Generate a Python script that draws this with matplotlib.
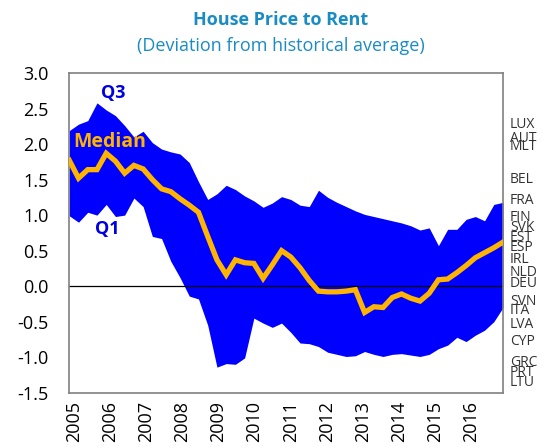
import numpy as np
import matplotlib.pyplot as plt

plt.rcParams["font.family"] = ["Open Sans", "DejaVu Sans"]

# quarterly series, 2005Q1 - 2016Q4
q3 = [2.19, 2.28, 2.33, 2.58, 2.48, 2.40, 2.26, 2.10, 2.18, 2.02, 1.93, 1.89,
      1.86, 1.74, 1.47, 1.22, 1.30, 1.42, 1.36, 1.27, 1.20, 1.11, 1.17, 1.26,
      1.22, 1.14, 1.12, 1.35, 1.25, 1.18, 1.12, 1.06, 1.01, 0.98, 0.95, 0.92,
      0.89, 0.85, 0.79, 0.82, 0.57, 0.80, 0.80, 0.94, 0.98, 0.92, 1.15, 1.18]
q1 = [0.99, 0.90, 1.04, 1.00, 1.15, 0.98, 1.00, 1.24, 1.12, 0.70, 0.67, 0.35,
      0.12, -0.14, -0.18, -0.55, -1.14, -1.09, -1.10, -1.01, -0.45, -0.52, -0.58, -0.52,
      -0.65, -0.80, -0.81, -0.85, -0.93, -0.96, -0.99, -0.98, -0.92, -0.96, -0.99, -0.96,
      -0.95, -0.97, -0.99, -0.96, -0.88, -0.83, -0.72, -0.78, -0.69, -0.62, -0.50, -0.30]
median = [1.77, 1.52, 1.64, 1.64, 1.87, 1.76, 1.59, 1.70, 1.65, 1.50, 1.37, 1.33,
          1.23, 1.14, 1.04, 0.70, 0.37, 0.16, 0.37, 0.33, 0.32, 0.11, 0.30, 0.50,
          0.41, 0.26, 0.08, -0.07, -0.08, -0.08, -0.07, -0.05, -0.37, -0.29, -0.30, -0.16,
          -0.11, -0.17, -0.21, -0.10, 0.09, 0.10, 0.19, 0.29, 0.40, 0.47, 0.54, 0.62]
years = list(range(2005, 2017))

# latest country readings, shown on the right
countries = ["LUX", "AUT", "MLT", "BEL", "FRA", "FIN", "SVK", "EST", "ESP", "IRL",
             "NLD", "DEU", "SVN", "ITA", "LVA", "CYP", "GRC", "PRT", "LTU"]
latest = [2.27, 2.08, 1.96, 1.50, 1.20, 0.97, 0.83, 0.69, 0.55, 0.38,
          0.19, 0.04, -0.22, -0.34, -0.54, -0.78, -1.07, -1.21, -1.35]

n = len(median)
x = np.linspace(0, n, n)

fig = plt.figure(figsize=(5.5, 4.48), dpi=100)
ax = fig.add_axes([0.126, 0.1234, 0.7886, 0.7136])

ax.fill_between(x, q1, q3, color="#0000FF", linewidth=0, zorder=1)
ax.axhline(0, color="black", linewidth=0.9, zorder=2)
ax.plot(x, median, color="#FFB400", linewidth=3.8, solid_joinstyle="miter", zorder=3)

ax.set_xlim(0, n)
ax.set_ylim(-1.5, 3.0)
ax.set_yticks(np.arange(-1.5, 3.01, 0.5))
ax.set_yticklabels([f"{v:.1f}" for v in np.arange(-1.5, 3.01, 0.5)])
ax.set_xticks([(y - 2005) * 4 + 0.5 for y in years])
ax.set_xticklabels([str(y) for y in years], rotation=90)
ax.tick_params(length=0, labelsize=13, colors="black")
ax.tick_params(axis="y", pad=15)
ax.tick_params(axis="x", pad=6)
for s in ax.spines.values():
    s.set_color("#808080")
    s.set_linewidth(1.2)

ax.text(4.9, 2.72, "Q3", color="#0000E0", fontsize=13, fontweight="bold",
        ha="center", va="center")
ax.text(4.5, 2.03, "Median", color="#FFB400", fontsize=14, fontweight="bold",
        ha="center", va="center")
ax.text(4.2, 0.81, "Q1", color="#0000E0", fontsize=13, fontweight="bold",
        ha="center", va="center")

for name, v in zip(countries, latest):
    ax.annotate(name, xy=(1.0, v), xycoords=("axes fraction", "data"),
                xytext=(5, 0), textcoords="offset points",
                ha="left", va="center", fontsize=10, color="#333333",
                annotation_clip=False)

fig.text(0.511, 0.955, "House Price to Rent", color="#1A8CC4", fontsize=13,
         fontweight="bold", ha="center", va="center")
fig.text(0.511, 0.898, "(Deviation from historical average)", color="#1A8CC4",
         fontsize=13, ha="center", va="center")

fig.savefig("out.png", dpi=100)
